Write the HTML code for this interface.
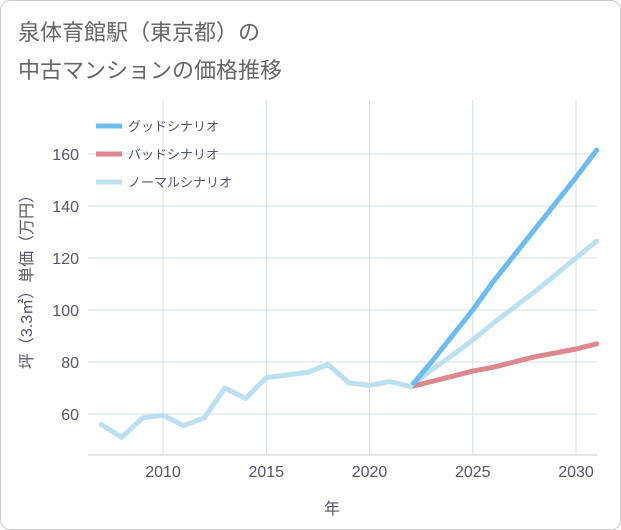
<!DOCTYPE html>
<html><head><meta charset="utf-8"><style>
body{margin:0;background:#fff;font-family:"Liberation Sans","Noto Sans CJK JP",sans-serif;}
#card{position:absolute;left:0;top:0;width:619px;height:528px;border:1px solid #ccc;border-radius:10px;background:#fff;}
</style></head><body>
<div id="card"></div>
<svg id="svg" width="621" height="530" style="position:absolute;left:0;top:0">
<text x="18" y="40" font-size="22" fill="#666">泉体育館駅（東京都）の</text>
<text x="18" y="78" font-size="22" fill="#666">中古マンションの価格推移</text>
<g id="plot"></g>
</svg>
<script>
const histYears=[2007,2008,2009,2010,2011,2012,2013,2014,2015,2016,2017,2018,2019,2020,2021,2022];
const histVals=[56,51,58.5,59.5,55.5,58.5,70,66,74,75,76,79,72,71,72.5,70.5];
const futYears=[2022,2023,2024,2025,2026,2027,2028,2029,2030,2031];
const goodVals=[70.5,80,90,100,111,121,131,141,151,161.5];
const badVals=[70.5,72.5,74.5,76.5,78,80,82,83.5,85,87];
const normalVals=[70.5,77,82.5,88.5,95,101,107,113.5,120,126.5];
const xTicks=[2010,2015,2020,2025,2030];
const yTicks=[60,80,100,120,140,160];
const legendLabels=["グッドシナリオ","バッドシナリオ","ノーマルシナリオ"];
const legendColors=["#6bbcf0","#e0868e","#bde0f0"];

const L=88,R=597,T=100,B=455;
const x=v=>163+(v-2010)*(576-163)/20;
const y=v=>414-(v-60)*2.6;
const NS="http://www.w3.org/2000/svg";
const g=document.getElementById('plot');
function mk(t,a){const e=document.createElementNS(NS,t);for(const k in a)e.setAttribute(k,a[k]);g.appendChild(e);return e;}
for(const t of xTicks){const l=mk('line',{x1:x(t),x2:x(t),y1:T,y2:B,stroke:'#d5e0ea','stroke-width':1});

const tx=mk('text',{x:x(t),y:477,'text-anchor':'middle','font-size':16,fill:'#556'});tx.textContent=t;
}
for(const t of yTicks){const l=mk('line',{x1:L,x2:R,y1:y(t),y2:y(t),stroke:'#d5e0ea','stroke-width':1});

const tx=mk('text',{x:79,y:y(t)+6,'text-anchor':'end','font-size':16,fill:'#556'});tx.textContent=t;
}
const ax=mk('line',{x1:L,x2:R,y1:B,y2:B,stroke:'#ccc'});
function line(xs,vs,c,name){const p=mk('polyline',{points:xs.map((v,i)=>x(v)+','+y(vs[i])).join(' '),fill:'none',stroke:c,'stroke-width':5,'stroke-linejoin':'round','stroke-linecap':'round'});
}
line(futYears,normalVals,legendColors[2],'normal-scenario-line');
line(futYears,badVals,legendColors[1],'bad-scenario-line');
line(futYears,goodVals,legendColors[0],'good-scenario-line');
line(histYears,histVals,legendColors[2],'historical-line');
const names=['legend-good','legend-bad','legend-normal'];
legendLabels.forEach((s,i)=>{const yy=126+i*28;
const r=mk('line',{x1:96,x2:122,y1:yy,y2:yy,stroke:legendColors[i],'stroke-width':5});

const t=mk('text',{x:128,y:yy+5,'font-size':13,fill:'#556'});t.textContent=s;
});
const xt=mk('text',{x:332,y:514,'text-anchor':'middle','font-size':16,fill:'#556'});xt.textContent='年';

const yt=mk('text',{x:0,y:0,'text-anchor':'middle','font-size':16,fill:'#556',transform:'translate(32,278) rotate(-90)'});yt.textContent='坪（3.3㎡）単価（万円）';

</script>
</body></html>
